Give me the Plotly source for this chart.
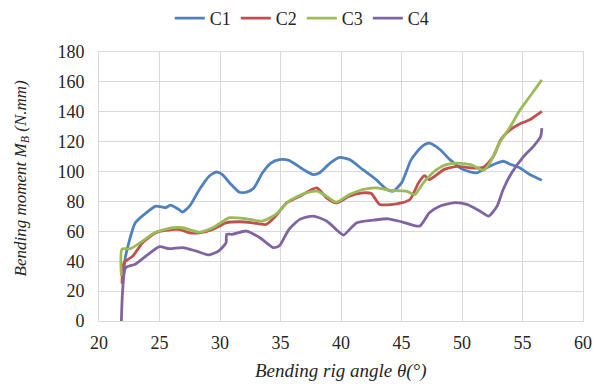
import plotly.graph_objects as go

c1_x = [22.0, 22.2, 23.0, 23.9, 24.7, 25.5, 25.9, 26.6, 26.9, 27.5, 28.3, 29.1, 29.7, 30.2, 30.8, 31.6, 32.2, 32.8, 33.5, 34.2, 34.9, 35.7, 36.9, 37.7, 38.2, 39.1, 39.9, 40.7, 41.8, 42.9, 43.8, 44.3, 45.0, 45.8, 46.7, 47.3, 48.2, 49.0, 50.1, 51.2, 52.0, 52.9, 53.4, 54.1, 54.8, 55.6, 56.6]
c1_y = [30, 43.5, 65.7, 72.4, 76.9, 75.8, 77.5, 74.6, 72.9, 77, 88, 96.9, 99.7, 98, 92.4, 86.2, 86.2, 89, 99, 105.7, 108, 107.5, 101.3, 98, 99, 105.7, 109.5, 108, 101.3, 94.6, 88, 86.9, 92.4, 108, 116.9, 119, 114.6, 108, 101.3, 99.1, 102.4, 105.7, 106.9, 104.6, 102.4, 98, 94.2]

c2_x = [21.9, 22.07, 22.8, 23.6, 24.7, 25.5, 26.6, 27.5, 28.3, 29.4, 30.5, 31.6, 32.7, 33.8, 34.6, 35.5, 36.6, 38.0, 38.8, 39.6, 40.7, 41.8, 42.5, 43.2, 44.6, 45.7, 46.4, 46.9, 47.3, 48.5, 49.6, 50.7, 51.8, 52.6, 53.2, 54.0, 54.8, 55.6, 56.6]
c2_y = [25, 39, 43.5, 52.4, 59, 60.6, 61.3, 59, 59, 61.3, 65.7, 66.4, 65.7, 64.6, 70.2, 79, 83.5, 89.1, 82.4, 79, 83.5, 85.7, 85.3, 78, 78.4, 81.3, 92.4, 97.3, 94.6, 101.3, 103.5, 102.4, 103.1, 110.2, 121.3, 128, 132, 134.6, 140.2]

c3_x = [21.85, 21.9, 22.6, 23.6, 24.7, 26.1, 26.9, 28.3, 29.4, 30.8, 32.2, 33.5, 34.6, 35.7, 37.1, 38.0, 38.8, 39.6, 40.7, 41.8, 42.9, 44.0, 45.4, 46.1, 46.8, 47.9, 48.7, 49.6, 50.7, 51.8, 52.3, 53.1, 54.0, 54.8, 55.6, 56.6]
c3_y = [30, 48, 48.4, 53.5, 59.5, 62.4, 62.4, 59.5, 62.4, 69.1, 68.4, 66.9, 71.3, 80.2, 85.7, 86.9, 83.5, 79.5, 84.6, 88, 89.1, 87.5, 86.9, 84.6, 92.4, 101.3, 104.6, 105.7, 104.6, 100.9, 105.7, 119.1, 130.2, 141.3, 150.2, 161.3]

c4_x = [21.85, 21.95, 22.2, 23.0, 23.9, 25.0, 25.8, 26.9, 28.0, 29.1, 29.9, 30.5, 30.55, 31.0, 32.2, 33.3, 34.4, 34.9, 35.7, 36.6, 37.7, 38.8, 39.9, 40.2, 41.3, 42.7, 43.9, 45.1, 46.5, 47.3, 48.2, 49.3, 50.4, 51.5, 52.2, 52.9, 53.4, 54.1, 55.1, 55.9, 56.5, 56.6]
c4_y = [0, 20, 35.7, 38, 43.5, 49.7, 48.4, 49.1, 46.9, 44.2, 46.9, 52.4, 58, 58, 60.2, 55.7, 49.1, 50.2, 61.3, 68, 70.2, 66.9, 59.1, 57.5, 65.7, 67.5, 68.4, 66.2, 63.5, 72.4, 76.9, 79.1, 78, 73.5, 70.2, 76.9, 88, 99.1, 110.2, 116.9, 123.5, 129]

series = [
    ("C1", c1_x, c1_y, "#4F81BD"),
    ("C2", c2_x, c2_y, "#C0504D"),
    ("C3", c3_x, c3_y, "#9BBB59"),
    ("C4", c4_x, c4_y, "#8064A2"),
]

x_ticks = [20, 25, 30, 35, 40, 45, 50, 55, 60]
y_ticks = [0, 20, 40, 60, 80, 100, 120, 140, 160, 180]
x_title = "<i>Bending rig angle θ(°)</i>"
y_title = "<i>Bending moment M<sub>B</sub> (N.mm)</i>"

fig = go.Figure()
for name, xs, ys, col in series:
    fig.add_trace(go.Scatter(x=xs, y=ys, name=name, mode="lines",
                             line=dict(color=col, width=2.8, shape="spline", smoothing=0.6)))

grid = "#D9D9D9"
txt = "#262626"
tickfont = dict(family="Liberation Serif", size=18, color=txt)
fig.update_layout(
    width=602, height=385,
    margin=dict(l=99, r=19, t=52, b=64),
    paper_bgcolor="white", plot_bgcolor="white",
    showlegend=True,
    legend=dict(orientation="h", x=0.42, xanchor="center", y=1.0, yref="container", yanchor="top",
                font=dict(family="Liberation Serif", size=18, color=txt),
                itemwidth=30, tracegroupgap=0, bgcolor="rgba(0,0,0,0)"),
    xaxis=dict(range=[20, 60], tickvals=x_ticks, showgrid=True, gridcolor=grid, gridwidth=1,
               showline=True, linecolor=grid, mirror=True, zeroline=False, automargin=False,
               tickfont=tickfont, ticks="", ticklabelstandoff=5),
    yaxis=dict(range=[0, 180], tickvals=y_ticks, showgrid=True, gridcolor=grid, gridwidth=1,
               showline=True, linecolor=grid, mirror=True, zeroline=False, automargin=False,
               tickfont=tickfont, ticks="", ticklabelstandoff=10),
    annotations=[
        dict(text=x_title, xref="paper", yref="paper", x=0.5, y=0, xanchor="center",
             yanchor="middle", yshift=-50, showarrow=False,
             font=dict(family="Liberation Serif", size=19, color=txt)),
        dict(text=y_title, xref="paper", yref="paper", x=0, y=0.53, xanchor="center",
             yanchor="middle", xshift=-77, textangle=-90, showarrow=False,
             font=dict(family="Liberation Serif", size=17, color=txt)),
    ],
)

fig.write_html("out.html", config={"displayModeBar": False},
               post_script="document.body.style.margin='0';document.body.style.overflow='hidden';")
